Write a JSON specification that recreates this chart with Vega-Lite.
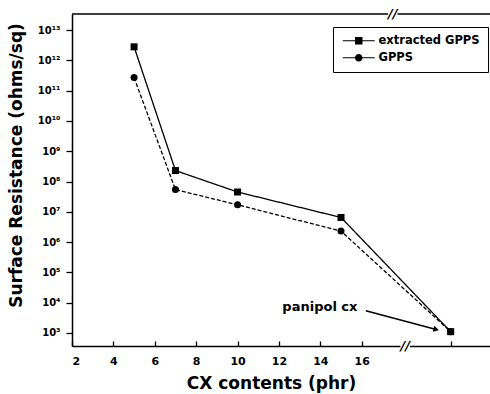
{
  "$schema": "https://vega.github.io/schema/vega-lite/v6.json",
  "width": 418,
  "height": 332,
  "autosize": {"type": "none"},
  "padding": {"left": 72, "top": 14, "right": 0, "bottom": 48},
  "background": "white",
  "config": {
    "view": {"stroke": null},
    "font": "DejaVu Sans",
    "axis": {
      "grid": false,
      "domainColor": "black",
      "domainWidth": 1.5,
      "tickColor": "black",
      "tickWidth": 1.3,
      "labelColor": "black",
      "titleColor": "black",
      "labelFontWeight": "bold",
      "titleFontWeight": "bold",
      "labelFont": "DejaVu Sans",
      "titleFont": "DejaVu Sans"
    }
  },
  "datasets": {
    "pts": [
      {"series": "GPPS", "cx": 5, "r": 270000000000},
      {"series": "GPPS", "cx": 7, "r": 54000000},
      {"series": "GPPS", "cx": 10, "r": 17000000},
      {"series": "GPPS", "cx": 15, "r": 2300000},
      {"series": "GPPS", "cx": 20.3, "r": 1100},
      {"series": "extracted GPPS", "cx": 5, "r": 2800000000000},
      {"series": "extracted GPPS", "cx": 7, "r": 230000000},
      {"series": "extracted GPPS", "cx": 10, "r": 45000000},
      {"series": "extracted GPPS", "cx": 15, "r": 6500000},
      {"series": "extracted GPPS", "cx": 20.3, "r": 1100}
    ],
    "top": [
      {"r": 34000000000000}
    ],
    "brk": [
      {"cx": 17.5, "r": 34000000000000, "mark": "//"},
      {"cx": 18.1, "r": 370, "mark": "//"}
    ],
    "ann": [
      {"cx": 16.2, "r": 5400, "cx2": 19.6, "r2": 1300, "tx": 13.98, "ty": 7200, "label": "panipol cx"}
    ]
  },
  "resolve": {"scale": {"shape": "independent"}, "legend": {"shape": "independent"}},
  "layer": [
    {
      "data": {"name": "top"},
      "mark": {"type": "rule", "color": "black", "strokeWidth": 1.5},
      "encoding": {"y": {"field": "r", "type": "quantitative"}}
    },
    {
      "data": {"name": "pts"},
      "mark": {"type": "line", "color": "black", "strokeWidth": 1.3},
      "encoding": {
        "x": {
          "field": "cx", "type": "quantitative",
          "scale": {"domain": [2, 22.2], "nice": false, "zero": false},
          "axis": {
            "values": [2, 4, 6, 8, 10, 12, 14, 16, 20.3],
            "labelExpr": "datum.value > 17 ? '' : datum.label",
            "tickSize": -5,
            "labelPadding": 14,
            "labelFontSize": 11,
            "title": "CX contents (phr)",
            "titleFontSize": 17,
            "titleX": 199,
            "titleY": 29,
            "titleBaseline": "top"
          }
        },
        "y": {
          "field": "r", "type": "quantitative",
          "scale": {"type": "log", "domain": [370, 34000000000000], "nice": false},
          "axis": {
            "values": [1e3, 1e4, 1e5, 1e6, 1e7, 1e8, 1e9, 1e10, 1e11, 1e12, 1e13],
            "labelExpr": "'10' + (round(log(datum.value)/LN10) >= 10 ? '¹' + ['⁰','¹','²','³','⁴','⁵','⁶','⁷','⁸','⁹'][round(log(datum.value)/LN10) - 10] : ['⁰','¹','²','³','⁴','⁵','⁶','⁷','⁸','⁹'][round(log(datum.value)/LN10)])",
            "tickSize": 6,
            "labelPadding": 6,
            "labelFontSize": 10,
            "title": "Surface Resistance (ohms/sq)",
            "titleFontSize": 17,
            "titleX": -47,
            "titleY": 151,
            "titleAngle": -90,
            "titleBaseline": "bottom",
            "titleAlign": "center"
          }
        },
        "strokeDash": {
          "field": "series", "type": "nominal",
          "scale": {"domain": ["extracted GPPS", "GPPS"], "range": [[1, 0], [4, 2]]},
          "legend": null
        }
      }
    },
    {
      "data": {"name": "pts"},
      "mark": {"type": "point", "filled": true, "color": "black", "opacity": 1, "size": 49},
      "encoding": {
        "x": {"field": "cx", "type": "quantitative"},
        "y": {"field": "r", "type": "quantitative"},
        "shape": {
          "field": "series", "type": "nominal",
          "scale": {"domain": ["extracted GPPS", "GPPS"], "range": ["square", "circle"]},
          "legend": null
        }
      }
    },
    {
      "data": {"name": "pts"},
      "mark": {"type": "point", "filled": true, "color": "black", "opacity": 0},
      "encoding": {
        "x": {"field": "cx", "type": "quantitative"},
        "y": {"field": "r", "type": "quantitative"},
        "shape": {
          "field": "series", "type": "nominal",
          "scale": {
            "domain": ["extracted GPPS", "GPPS"],
            "range": [
              "M-3.2,-0.12H3.2V0.12H-3.2Z M-0.75,-0.75H0.75V0.75H-0.75Z",
              "M-3.2,-0.12H3.2V0.12H-3.2Z M0.75,0A0.75,0.75 0 1,1 -0.75,0A0.75,0.75 0 1,1 0.75,0Z"
            ]
          },
          "legend": {
            "orient": "none",
            "legendX": 261,
            "legendY": 13,
            "title": null,
            "strokeColor": "black",
            "padding": 8,
            "symbolSize": 100,
            "symbolOffset": 12,
            "symbolOpacity": 1,
            "symbolFillColor": "black",
            "symbolStrokeWidth": 0,
            "labelFontSize": 11.5,
            "labelFontWeight": "bold",
            "labelColor": "black",
            "labelFont": "DejaVu Sans",
            "labelOffset": 14,
            "rowPadding": 4
          }
        }
      }
    },
    {
      "data": {"name": "brk"},
      "mark": {"type": "point", "shape": "square", "filled": true, "color": "white", "opacity": 1, "size": 90},
      "encoding": {
        "x": {"field": "cx", "type": "quantitative"},
        "y": {"field": "r", "type": "quantitative"}
      }
    },
    {
      "data": {"name": "brk"},
      "mark": {"type": "text", "color": "black", "fontSize": 13, "fontWeight": "bold", "fontStyle": "italic", "baseline": "middle", "align": "center", "font": "DejaVu Sans"},
      "encoding": {
        "x": {"field": "cx", "type": "quantitative"},
        "y": {"field": "r", "type": "quantitative"},
        "text": {"field": "mark"}
      }
    },
    {
      "data": {"name": "ann"},
      "mark": {"type": "rule", "color": "black", "strokeWidth": 1.5},
      "encoding": {
        "x": {"field": "cx", "type": "quantitative"},
        "y": {"field": "r", "type": "quantitative"},
        "x2": {"field": "cx2"},
        "y2": {"field": "r2"}
      }
    },
    {
      "data": {"name": "ann"},
      "mark": {"type": "point", "shape": "triangle-right", "angle": 15, "filled": true, "color": "black", "opacity": 1, "size": 40},
      "encoding": {
        "x": {"field": "cx2", "type": "quantitative"},
        "y": {"field": "r2", "type": "quantitative"}
      }
    },
    {
      "data": {"name": "ann"},
      "mark": {"type": "text", "color": "black", "fontSize": 13, "fontWeight": "bold", "align": "center", "baseline": "middle", "font": "DejaVu Sans"},
      "encoding": {
        "x": {"field": "tx", "type": "quantitative"},
        "y": {"field": "ty", "type": "quantitative"},
        "text": {"field": "label"}
      }
    }
  ]
}
